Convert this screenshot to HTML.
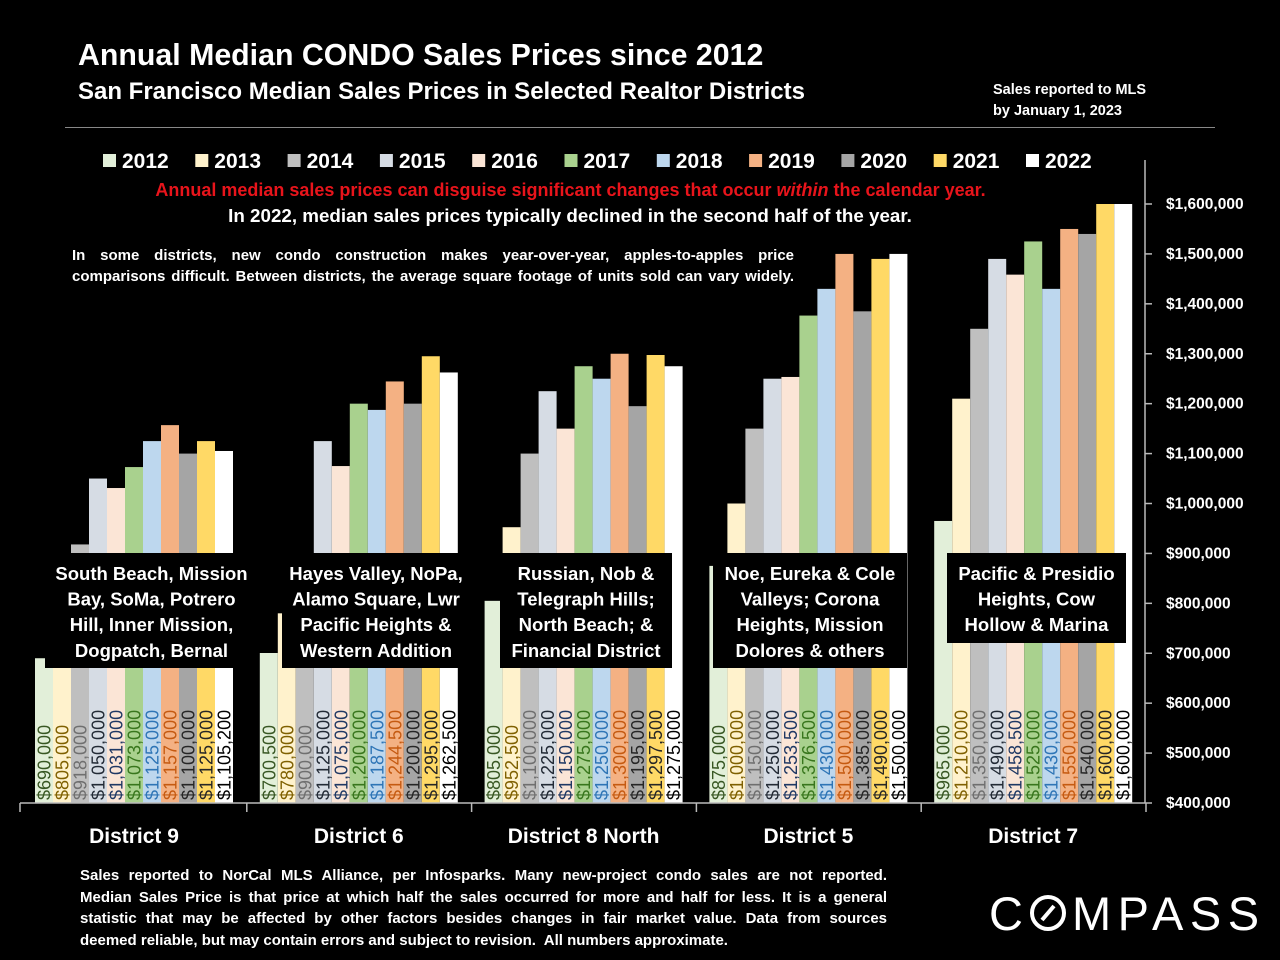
<!DOCTYPE html>
<html><head><meta charset="utf-8">
<style>
html,body{margin:0;padding:0;background:#000;}
body{width:1280px;height:960px;position:relative;overflow:hidden;font-family:"Liberation Sans",sans-serif;color:#fff;}
.t{position:absolute;font-weight:bold;white-space:nowrap;}
.jl{position:absolute;font-weight:bold;text-align:justify;text-align-last:justify;white-space:nowrap;}
</style></head><body>
<div class="t" style="left:78px;top:39px;font-size:30.3px;">Annual Median CONDO Sales Prices since 2012</div>
<div class="t" style="left:78px;top:78px;font-size:24px;">San Francisco Median Sales Prices in Selected Realtor Districts</div>
<div class="t" style="left:993px;top:80px;font-size:14.5px;line-height:21px;">Sales reported to MLS<br>by January 1, 2023</div>
<div style="position:absolute;left:65px;top:127px;width:1150px;height:1px;background:#888;"></div>
<div class="t" style="left:0;width:1141px;text-align:center;top:180px;font-size:18px;color:#e8141b;">Annual median sales prices can disguise significant changes that occur <i>within</i> the calendar year.</div>
<div class="t" style="left:0;width:1140px;text-align:center;top:205px;font-size:18.8px;">In 2022, median sales prices typically declined in the second half of the year.</div>
<div style="position:absolute;left:72px;top:245px;width:722px;font-size:15px;line-height:21px;">
<div class="jl" style="position:relative;width:722px;">In some districts, new condo construction makes year-over-year, apples-to-apples price</div>
<div class="jl" style="position:relative;width:722px;">comparisons difficult. Between districts, the average square footage of units sold can vary widely.</div>
</div>
<div style="position:absolute;left:80px;top:865px;width:807px;font-size:15px;line-height:21.5px;">
<div class="jl" style="position:relative;width:807px;">Sales reported to NorCal MLS Alliance, per Infosparks. Many new-project condo sales are not reported.</div>
<div class="jl" style="position:relative;width:807px;">Median Sales Price is that price at which half the sales occurred for more and half for less. It is a general</div>
<div class="jl" style="position:relative;width:807px;">statistic that may be affected by other factors besides changes in fair market value. Data from sources</div>
<div class="t" style="position:relative;">deemed reliable, but may contain errors and subject to revision.&nbsp; All numbers approximate.</div>
</div>
<svg style="position:absolute;left:985px;top:885px" width="290" height="55">
<text x="4" y="45" font-family="Liberation Sans, sans-serif" font-size="47" fill="#fff" letter-spacing="7">C</text>
<circle cx="63" cy="28" r="16" fill="none" stroke="#fff" stroke-width="4"/><line x1="57" y1="35" x2="69" y2="21" stroke="#fff" stroke-width="4"/>
<text x="87" y="45" font-family="Liberation Sans, sans-serif" font-size="47" fill="#fff" letter-spacing="6.5">MPASS</text>
</svg>
<svg id="chart" style="position:absolute;left:0;top:0" width="1280" height="960"></svg>
<script>
const years=["2012","2013","2014","2015","2016","2017","2018","2019","2020","2021","2022"];
const districts=["District 9","District 6","District 8 North","District 5","District 7"];
const d9=[690000,805000,918000,1050000,1031000,1073000,1125000,1157000,1100000,1125000,1105200];
const d6=[700500,780000,900000,1125000,1075000,1200000,1187500,1244500,1200000,1295000,1262500];
const d8n=[805000,952500,1100000,1225000,1150000,1275000,1250000,1300000,1195000,1297500,1275000];
const d5=[875000,1000000,1150000,1250000,1253500,1376500,1430000,1500000,1385000,1490000,1500000];
const d7=[965000,1210000,1350000,1490000,1458500,1525000,1430000,1550000,1540000,1600000,1600000];
const yTicks=[400000,500000,600000,700000,800000,900000,1000000,1100000,1200000,1300000,1400000,1500000,1600000];
const series=[d9,d6,d8n,d5,d7];
const labels=[
 "South Beach, Mission|Bay, SoMa, Potrero|Hill, Inner Mission,|Dogpatch, Bernal",
 "Hayes Valley, NoPa,|Alamo Square, Lwr|Pacific Heights &|Western Addition",
 "Russian, Nob &|Telegraph Hills;|North Beach; &|Financial District",
 "Noe, Eureka & Cole|Valleys; Corona|Heights, Mission|Dolores & others",
 "Pacific & Presidio|Heights, Cow|Hollow & Marina"];
const fills=["#e2efd9","#fff2cc","#bfbfbf","#d6dce4","#fbe5d6","#a9d18e","#bdd7ee","#f4b183","#a5a5a5","#ffd966","#ffffff"];
const tcol=["#385723","#7f6000","#6f6f6f","#222a35","#1f3864","#38761d","#2e75b6","#c55a11","#262626","#262626","#000000"];
const NS="http://www.w3.org/2000/svg";
const svg=document.getElementById('chart');
function y(v){return 803-(v-400000)*599/1200000;}
function gx(g){return 35+g*224.8;}
const bw=18;
function mk(t,a,p){const e=document.createElementNS(NS,t);for(const k in a)e.setAttribute(k,a[k]);(p||svg).appendChild(e);return e;}
years.forEach((yr,i)=>{
 const lx=103+i*92.3;
 const r=mk('rect',{x:lx,y:154,width:13,height:13,fill:fills[i]});
 
 
 const t=mk('text',{x:lx+19,y:168,fill:'#fff','font-size':21,'font-weight':'bold'});
 t.textContent=yr;
 
 
});
series.forEach((s,g)=>{
 s.forEach((v,i)=>{
  const x=gx(g)+i*bw;
  const r=mk('rect',{x:x,y:y(v),width:bw,height:803-y(v),fill:fills[i]});
  
  
 });
});
const boxes=[[45,553,213,115],[282,553,188,115],[500,553,172,115],[713,553,194,115],[947,553,179,90]];
boxes.forEach((b,g)=>{
 const r=mk('rect',{x:b[0],y:b[1],width:b[2],height:b[3],fill:'#000'});
 
 
 const lines=labels[g].split('|');
 lines.forEach((ln,k)=>{
  const t=mk('text',{x:b[0]+b[2]/2,y:b[1]+27+k*25.6,fill:'#fff','font-size':18.5,'font-weight':'bold','text-anchor':'middle'});
  t.textContent=ln;
  
  
 });
});
series.forEach((s,g)=>{
 s.forEach((v,i)=>{
  const x=gx(g)+i*bw+bw/2+6.5;
  const t=mk('text',{x:x,y:800,fill:tcol[i],'font-size':18,transform:'rotate(-90 '+x+' 800)'});
  t.textContent='$'+v.toLocaleString('en-US');
  
  
 });
});
const xa=mk('line',{x1:20,y1:803,x2:1145,y2:803,stroke:'#bbb','stroke-width':1.5});


for(let g=0;g<=5;g++){const tx=gx(g)-13+(g==0?-2:0);mk('line',{x1:tx,y1:803,x2:tx,y2:812,stroke:'#bbb','stroke-width':1.5});}
const ya=mk('line',{x1:1145,y1:160,x2:1145,y2:803,stroke:'#bbb','stroke-width':1.5});


yTicks.forEach(v=>{
 mk('line',{x1:1145,y1:y(v),x2:1152,y2:y(v),stroke:'#bbb','stroke-width':1.5});
 const t=mk('text',{x:1166,y:y(v)+5,fill:'#fff','font-size':15.5,'font-weight':'bold'});
 t.textContent='$'+v.toLocaleString('en-US');
 
 
});
districts.forEach((d,g)=>{
 const t=mk('text',{x:gx(g)+99,y:843,fill:'#fff','font-size':21,'font-weight':'bold','text-anchor':'middle'});
 t.textContent=d;
 
 
});
</script>
</body></html>
